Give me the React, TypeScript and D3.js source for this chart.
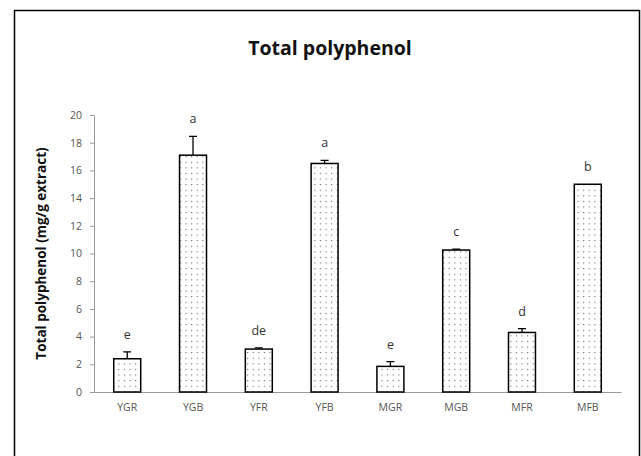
import React, { useEffect, useRef } from 'react';
import { axisBottom, axisLeft, scaleBand, scaleLinear, select } from 'd3';

const samples = ['YGR', 'YGB', 'YFR', 'YFB', 'MGR', 'MGB', 'MFR', 'MFB'];
const polyphenol = [2.4, 17.1, 3.1, 16.5, 1.85, 10.25, 4.3, 15.0];
const stdErr = [0.5, 1.35, 0.08, 0.22, 0.35, 0.06, 0.28, 0];
const groups = ['e', 'a', 'de', 'a', 'e', 'c', 'd', 'b'];
const yTicks = [0, 2, 4, 6, 8, 10, 12, 14, 16, 18, 20];

const App = () => {
  const chartRef = useRef<SVGSVGElement | null>(null);

  useEffect(() => {
    const svg = select(chartRef.current);
    const width = 641;
    const height = 456;
    const margin = { top: 115, right: 20, bottom: 64, left: 94 };
    const innerWidth = width - margin.left - margin.right;
    const innerHeight = height - margin.top - margin.bottom;
    const font = "'Open Sans', 'Noto Sans', sans-serif";

    svg.selectAll('*').remove();
    svg.attr('width', width).attr('height', height);

    // dotted fill
    const pat = svg
      .append('defs')
      .append('pattern')
      .attr('id', 'dots')
      .attr('patternUnits', 'userSpaceOnUse')
      .attr('width', 5.6)
      .attr('height', 5.6);
    pat.append('rect').attr('width', 5.6).attr('height', 5.6).attr('fill', '#fff');
    pat.append('rect').attr('x', 2).attr('y', 2).attr('width', 1).attr('height', 1).attr('fill', '#444');

    // outer frame
    svg
      .append('rect')
      .attr('x', 14.5)
      .attr('y', 10.5)
      .attr('width', 625)
      .attr('height', 460)
      .attr('fill', 'none')
      .attr('stroke', '#000')
      .attr('stroke-width', 1.5);

    svg
      .append('text')
      .attr('x', 330)
      .attr('y', 55)
      .attr('text-anchor', 'middle')
      .style('font-family', font)
      .style('font-weight', 'bold')
      .style('font-size', '19.5px')
      .attr('fill', '#111')
      .text('Total polyphenol');

    const g = svg.append('g').attr('transform', `translate(${margin.left},${margin.top})`);

    const x = scaleBand().domain(samples).range([0, innerWidth]).paddingInner(0.59).paddingOuter(0.3);
    const y = scaleLinear().domain([0, 20]).range([innerHeight, 0]);

    const yAxis = g
      .append('g')
      .call(axisLeft(y).tickValues(yTicks).tickSize(4).tickSizeOuter(0).tickPadding(8));
    yAxis.select('.domain').attr('stroke', '#999');
    yAxis.selectAll('line').attr('stroke', '#999');
    yAxis.selectAll('text').style('font-family', font).style('font-size', '10.5px').attr('fill', '#555');

    const xAxis = g
      .append('g')
      .attr('transform', `translate(0,${innerHeight})`)
      .call(axisBottom(x).tickSize(0).tickSizeOuter(0).tickPadding(12));
    xAxis.select('.domain').attr('stroke', '#999');
    xAxis.selectAll('text').style('font-family', font).style('font-size', '10.5px').attr('fill', '#555');

    svg
      .append('text')
      .attr('transform', `translate(46,${margin.top + innerHeight / 2}) rotate(-90)`)
      .attr('text-anchor', 'middle')
      .style('font-family', font)
      .style('font-weight', 'bold')
      .style('font-size', '13.5px')
      .attr('fill', '#111')
      .text('Total polyphenol (mg/g extract)');

    const data = samples.map((s, i) => ({ s, v: polyphenol[i], e: stdErr[i], l: groups[i] }));

    g.selectAll('.err')
      .data(data.filter((d) => d.e > 0))
      .enter()
      .append('path')
      .attr('class', 'err')
      .attr('d', (d) => {
        const cx = (x(d.s) ?? 0) + x.bandwidth() / 2;
        return `M${cx},${y(d.v)}V${y(d.v + d.e)}M${cx - 4},${y(d.v + d.e)}H${cx + 4}`;
      })
      .attr('stroke', '#000')
      .attr('stroke-width', 1.3)
      .attr('fill', 'none');

    g.selectAll('.bar')
      .data(data)
      .enter()
      .append('rect')
      .attr('class', 'bar')
      .attr('x', (d) => x(d.s) ?? 0)
      .attr('y', (d) => y(d.v))
      .attr('width', x.bandwidth())
      .attr('height', (d) => innerHeight - y(d.v))
      .attr('fill', 'url(#dots)')
      .attr('stroke', '#000')
      .attr('stroke-width', 1.5);

    g.selectAll('.grp')
      .data(data)
      .enter()
      .append('text')
      .attr('class', 'grp')
      .attr('x', (d) => (x(d.s) ?? 0) + x.bandwidth() / 2)
      .attr('y', (d) => y(d.v + d.e) - 13)
      .attr('text-anchor', 'middle')
      .style('font-family', font)
      .style('font-size', '12.5px')
      .attr('fill', '#333')
      .text((d) => d.l);
  }, []);

  return <svg ref={chartRef} style={{ position: 'absolute', left: 0, top: 0, background: '#fff' }} />;
};

export default App;
